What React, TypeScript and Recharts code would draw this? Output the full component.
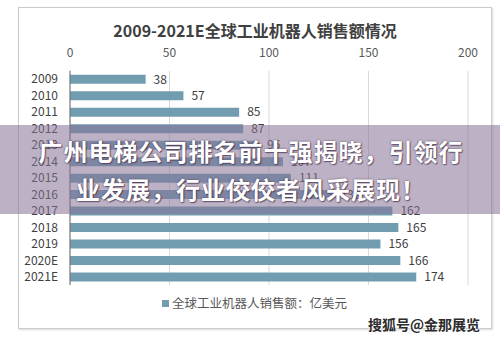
import React from "react";
import { BarChart, Bar, XAxis, YAxis, CartesianGrid, LabelList } from "recharts";

const categories = ["2009", "2010", "2011", "2012", "2013", "2014", "2015", "2016", "2017", "2018", "2019", "2020E", "2021E"];
const sales = [38, 57, 85, 87, 95, 107, 111, 132, 162, 165, 156, 166, 174];
const xTicks = [0, 50, 100, 150, 200];
const titleText = "2009-2021E全球工业机器人销售额情况";
const legendText = "全球工业机器人销售额：亿美元";
const bannerLines = ["广州电梯公司排名前十强揭晓，引领行", "业发展，行业佼佼者风采展现！"];
const watermark = "搜狐号@金那展览";

const data = categories.map((c, i) => ({ year: c, value: sales[i] }));

const FONT = '"Noto Sans CJK SC", "Noto Sans", sans-serif';
const BAR = "#729db1";

export default function App() {
  return (
    <div style={{ position: "absolute", left: 0, top: 0, width: 500, height: 338, background: "#fff", overflow: "hidden", fontFamily: FONT }}>
      <div style={{ position: "absolute", left: 18, top: 7, width: 472, height: 320, border: "1px solid #cccccc", boxShadow: "1px 1px 2px rgba(0,0,0,0.15)" }} />
      <div style={{ position: "absolute", left: 0, top: 17, width: 510, textAlign: "center", fontSize: 16, fontWeight: 700, color: "#404040", lineHeight: "26px" }}>
        {titleText}
      </div>
      <div style={{ position: "absolute", left: 0, top: 0 }}>
        <BarChart
          width={500}
          height={338}
          data={data}
          layout="vertical"
          margin={{ top: 40, right: 32, bottom: 53, left: 0 }}
          barSize={9}
        >
          <CartesianGrid horizontal={false} stroke="#d9d9d9" />
          <XAxis
            type="number"
            orientation="top"
            domain={[0, 200]}
            ticks={xTicks}
            height={30.75}
            axisLine={false}
            tickLine={false}
            tick={{ fill: "#595959", fontSize: 12, fontFamily: FONT }}
            tickMargin={8}
          />
          <YAxis
            type="category"
            dataKey="year"
            width={70}
            interval={0}
            axisLine={{ stroke: "#6e6e6e" }}
            tickLine={false}
            tickMargin={6}
            tick={{ fill: "#404040", fontSize: 12, fontFamily: FONT }}
          />
          <Bar dataKey="value" fill={BAR} barSize={9} isAnimationActive={false}>
            <LabelList dataKey="value" position="right" offset={8} fill="#404040" fontSize={12} fontFamily={FONT} />
          </Bar>
        </BarChart>
      </div>
      <div style={{ position: "absolute", left: 162, top: 294, display: "flex", alignItems: "center", fontSize: 12.5, color: "#595959", lineHeight: "18px" }}>
        <span style={{ display: "inline-block", width: 7, height: 7, background: BAR, marginRight: 3 }} />
        {legendText}
      </div>
      <div style={{ position: "absolute", left: 0, top: 125, width: 500, height: 89, background: "rgba(135,115,150,0.55)" }} />
      <div style={{ position: "absolute", left: 0, top: 132, width: 502, textAlign: "center", color: "#fff", fontSize: 24, fontWeight: 700, lineHeight: "38px", letterSpacing: 1, textShadow: "0 0 2px rgba(60,40,70,0.8), 1px 1px 1px rgba(60,40,70,0.6)" }}>
        <div>{bannerLines[0]}</div>
        <div>{bannerLines[1]}</div>
      </div>
      <div style={{ position: "absolute", left: 368, top: 314, fontSize: 14, fontWeight: 700, color: "#2b2b2b", lineHeight: "20px", textShadow: "0 0 2px #fff, 0 0 2px #fff" }}>
        {watermark}
      </div>
    </div>
  );
}
